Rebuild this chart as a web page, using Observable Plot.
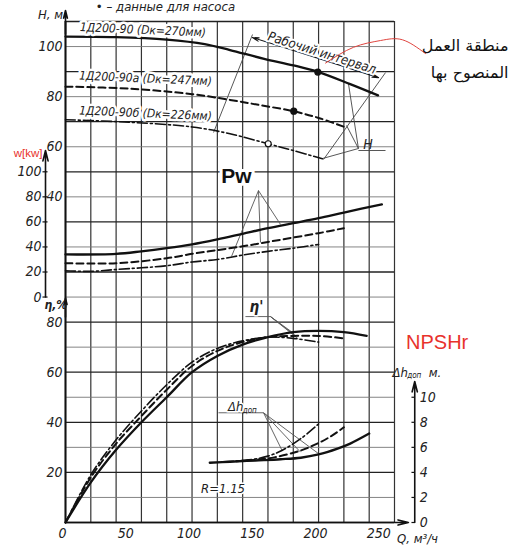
<!DOCTYPE html>
<html><head><meta charset="utf-8">
<script src="https://cdn.jsdelivr.net/npm/d3@7"></script>
<script src="https://cdn.jsdelivr.net/npm/@observablehq/plot@0.6"></script>
<style>body{margin:0;background:#fff}</style>
</head><body><div id="chart"></div>
<script>
// ---------- DATA ----------
// Head H (m) vs flow Q (m3/h)
const qH270 = [0,40,80,110,130,157,180,200,225,247];
const H270  = [104,103.8,102.8,101,98.6,95.1,92.5,89.8,85,80.5];
const qH247 = [0,50,100,130,155,180,200,221];
const H247  = [84,83.2,81,78.7,76.5,74.2,71.5,67.8];
const qH226 = [0,50,100,130,160,180,203];
const H226  = [70.8,69.8,67.9,65.2,61.2,58.5,55.2];
// Nominal points
const nomQ = [199.4,180.4,160.2];
const nomH = [89.8,74.2,61.2];
// Power (kW)
const qP270 = [0,40,60,80,100,120,140,160,180,200,220,250];
const P270  = [34,34.5,36.5,39,42,46,50.5,55,59,63,67.5,74];
const qP247 = [0,40,80,100,120,140,160,180,200,220];
const P247  = [27,27,31,34.5,37.5,40.5,44,47.5,51,55];
const qP226 = [0,20,40,80,100,120,140,160,180,200];
const P226  = [21,20.5,22,25,28,30,33.5,36.5,39,42];
// Efficiency (%)
const qE270 = [0,20,40,60,80,100,120,140,160,180,200,220,238];
const E270  = [0,16,29,40,50,60,66.5,71,74,76,76.5,76,74.5];
const qE247 = [0,20,40,60,80,100,120,140,160,180,200,220];
const E247  = [0,18,31.5,42.5,53,62.5,68.5,72,74,74.5,74.5,73.5];
const qE226 = [0,20,40,60,80,100,120,140,160,180,200];
const E226  = [0,19,33,44.5,55,64,69.5,72.5,74,73.5,72];
// NPSHr (m)
const qN270 = [114,130,150,170,186,200,215,225,240];
const N270  = [4.77,4.85,4.95,5.05,5.17,5.43,5.9,6.3,7.1];
const qN247 = [135,150,165,186,200,210,220];
const N247  = [4.9,5.0,5.2,5.75,6.35,6.9,7.6];
const qN226 = [125,145,160,171,186,201.5];
const N226  = [4.85,5.0,5.3,5.75,6.7,8.0];
// Ticks
const xTicks = [0,50,100,150,200,250];
const hTicks = [100,80,60,40];
const pTicks = [0,20,40,60,80,100];
const eTicks = [80,60,40,20];
const nTicks = [0,2,4,6,8,10];
const gridQ = d3.range(0,261,20);
const gridY = d3.range(0,201,10);
const curveNames = ["1Д200-90 (Dк=270мм)","1Д200-90а (Dк=247мм)","1Д200-90б (Dк=226мм)"];

// ---------- shared chart units (one grid row = 10 units) ----------
const yH = h => 90 + h, yP = p => 90 + p/2, yE = e => e, yN = n => 5*n;
const ser = (qs, vs, f) => qs.map((q,i)=>({q, y:f(vs[i])}));

// annotation geometry (Q, chart units)
const workArrow = [{x1:197.6,y1:185.6,x2:147.8,y2:193.6},{x1:197.6,y1:185.6,x2:247.4,y2:177.6}];
const workLines = [
  {x1:147.8,y1:194.8,x2:117.0,y2:155.7},
  {x1:252.9,y1:179.6,x2:203.9,y2:144.9},
  {x1:223.6,y1:175.2,x2:231.5,y2:149.3},
  {x1:231.5,y1:149.3,x2:222.1,y2:158.5},
  {x1:231.5,y1:149.3,x2:203.1,y2:145.3},
  {x1:231.5,y1:148.5,x2:252.9,y2:148.5}];
const pwLeaders = [
  {x1:152.5,y1:132.5,x2:169.9,y2:119.0},
  {x1:152.5,y1:132.5,x2:154.1,y2:111.8},
  {x1:152.5,y1:132.5,x2:131.2,y2:106.2}];
const etaLeaders = [
  {x1:142.2,y1:82.2,x2:162.0,y2:82.2},
  {x1:162.0,y1:82.2,x2:179,y2:76},
  {x1:162.0,y1:82.2,x2:182,y2:74.5},
  {x1:162.0,y1:82.2,x2:184,y2:73.3}];
const dhLeaders = [
  {x1:120.9,y1:43.8,x2:156.5,y2:43.8},
  {x1:156.5,y1:43.8,x2:171.2,y2:28.7},
  {x1:156.5,y1:43.8,x2:185.7,y2:28.1},
  {x1:156.5,y1:43.8,x2:200.2,y2:27.4}];
const redCurve = [{q:205.5,y:183.4},{q:227.6,y:189.7},{q:248.9,y:192.4},{q:266.3,y:192.7},{q:284.5,y:187.2}];
const axisArrows = [
  {x1:0,y1:0,x2:271,y2:0},
  {x1:0,y1:195,x2:0,y2:204.4},
  {x1:0,y1:82,x2:0,y2:89.5},
  {x1:-15.8,y1:90,x2:-15.8,y2:148.5},
  {x1:276,y1:0,x2:276,y2:56.3}];

const gost = "'Liberation Sans Narrow','DejaVu Sans Condensed','Arial Narrow',sans-serif";
const arial = "'Liberation Sans',Arial,sans-serif";
const ink = "#222";
const st = [
  {stroke:"#111", strokeWidth:2.3},
  {stroke:"#111", strokeWidth:2, strokeDasharray:"7,4"},
  {stroke:"#111", strokeWidth:1.6, strokeDasharray:"10,3,2,3"}];
const curve = "catmull-rom";
const lineOf = (d, i) => Plot.line(d, {x:"q", y:"y", curve, ...st[i]});
const tx = (data, o) => Plot.text(data, {fontFamily:gost, fontStyle:"italic", fill:ink, fontSize:14, ...o});

const chart = Plot.plot({
  width:510, height:552,
  marginLeft:65, marginRight:116, marginTop:21, marginBottom:30,
  x:{domain:[0,260], axis:null},
  y:{domain:[0,200], axis:null},
  style:{background:"white", fontFamily:gost},
  marks:[
    Plot.ruleX(gridQ, {y1:0, y2:200, stroke:"#333", strokeWidth:1.2}),
    Plot.ruleY(gridY, {x1:0, x2:260, stroke:d => d%20===0 ? "#222" : "#777", strokeWidth:d => d%20===0 ? 1.3 : 0.9}),
    Plot.ruleX([0], {y1:0, y2:200, stroke:"#111", strokeWidth:2}),
    Plot.arrow(axisArrows, {x1:"x1",y1:"y1",x2:"x2",y2:"y2", stroke:"#111", strokeWidth:1.6, headLength:10, headAngle:28}),
    Plot.ruleY(pTicks.map(yP), {x1:-17.8, x2:-13.8, stroke:"#111", strokeWidth:1.2}),
    Plot.ruleY(nTicks.map(yN), {x1:273.8, x2:276, stroke:"#111", strokeWidth:1.2}),
    // leader/annotation lines
    Plot.link(workLines, {x1:"x1",y1:"y1",x2:"x2",y2:"y2", stroke:"#444", strokeWidth:0.9}),
    Plot.arrow(workArrow, {x1:"x1",y1:"y1",x2:"x2",y2:"y2", stroke:"#111", strokeWidth:1.1, headLength:9, headAngle:30}),
    Plot.link(pwLeaders, {x1:"x1",y1:"y1",x2:"x2",y2:"y2", stroke:"#555", strokeWidth:0.9}),
    Plot.link(etaLeaders, {x1:"x1",y1:"y1",x2:"x2",y2:"y2", stroke:"#555", strokeWidth:0.9}),
    Plot.link(dhLeaders, {x1:"x1",y1:"y1",x2:"x2",y2:"y2", stroke:"#555", strokeWidth:0.9}),
    // curves
    lineOf(ser(qH270,H270,yH),0), lineOf(ser(qH247,H247,yH),1), lineOf(ser(qH226,H226,yH),2),
    lineOf(ser(qP270,P270,yP),0), lineOf(ser(qP247,P247,yP),1), lineOf(ser(qP226,P226,yP),2),
    lineOf(ser(qE270,E270,yE),0), lineOf(ser(qE247,E247,yE),1), lineOf(ser(qE226,E226,yE),2),
    lineOf(ser(qN270,N270,yN),0), lineOf(ser(qN247,N247,yN),1), lineOf(ser(qN226,N226,yN),2),
    Plot.dot(nomQ.map((q,i)=>({q, y:yH(nomH[i]), i})), {x:"q", y:"y", r:3, fill:d => d.i<2 ? "#111" : "white", stroke:"#111", strokeWidth:1.2}),
    // curve labels
    tx(curveNames.map((t,i)=>({t, q:[61.2,63.2,63.2][i], y:[196.6,177.2,163.3][i]})), {x:"q", y:"y", text:"t", fontSize:12, rotate:2.5, stroke:"white", strokeWidth:5}),
    tx([{t:"Рабочий интервал", q:202.7, y:187.4}], {x:"q", y:"y", text:"t", fontSize:13, rotate:17.5, stroke:"white", strokeWidth:4}),
    tx([{t:"H", q:239, y:150.8}], {x:"q", y:"y", text:"t"}),
    tx([{t:"• – данные для насоса", q:79, y:206}], {x:"q", y:"y", text:"t", fontSize:13}),
    // tick labels
    tx(xTicks, {x:d=>d, y:-4.5, text:d=>String(d), dx:-3}),
    tx(hTicks, {x:0, y:yH, text:d=>String(d), dx:-3, textAnchor:"end"}),
    tx(pTicks, {x:-15.8, y:yP, text:d=>String(d), dx:-4, textAnchor:"end"}),
    tx(eTicks, {x:0, y:yE, text:d=>String(d), dx:-3, textAnchor:"end"}),
    tx(nTicks, {x:276, y:yN, text:d=>String(d), dx:5, textAnchor:"start"}),
    // axis titles
    tx([{t:"H, м", q:-11.9, y:202.8}], {x:"q", y:"y", text:"t", fontSize:13}),
    tx([{t:"η,%", q:-16.6, y:86.6}], {x:"q", y:"y", text:"t", fontSize:12, fontWeight:"bold", textAnchor:"start"}),
    tx([{t:"Q, м³/ч", q:262, y:-6.5}], {x:"q", y:"y", text:"t", fontSize:13, textAnchor:"start"}),
    tx([{t:"Δh", q:258.5, y:59.9}], {x:"q", y:"y", text:"t", fontSize:13, textAnchor:"start"}),
    tx([{t:"доп", q:270, y:58.6}], {x:"q", y:"y", text:"t", fontSize:8, textAnchor:"start"}),
    tx([{t:"м.", q:287, y:59.9}], {x:"q", y:"y", text:"t", fontSize:13, textAnchor:"start"}),
    tx([{t:"η'", q:150.9, y:86}], {x:"q", y:"y", text:"t", fontSize:15, fontWeight:"bold", stroke:"white", strokeWidth:3}),
    tx([{t:"Δh", q:128.5, y:46}], {x:"q", y:"y", text:"t", fontSize:13, textAnchor:"start", stroke:"white", strokeWidth:3}),
    tx([{t:"доп", q:140, y:44.9}], {x:"q", y:"y", text:"t", fontSize:8, textAnchor:"start"}),
    tx([{t:"R=1.15", q:124.5, y:13.6}], {x:"q", y:"y", text:"t", fontSize:13, stroke:"white", strokeWidth:3}),
    // bold / red annotations
    Plot.text([{t:"Pw", q:135.1, y:138.1}], {x:"q", y:"y", text:"t", fontFamily:arial, fontWeight:"bold", fontSize:21, fill:"#111", stroke:"white", strokeWidth:6}),
    Plot.line(redCurve, {x:"q", y:"y", curve:"natural", stroke:"#e0453f", strokeWidth:1}),
    Plot.text([{t:"NPSHr", q:293.7, y:71.7}], {x:"q", y:"y", text:"t", fontFamily:arial, fontSize:20, fill:"#e8322c"}),
    Plot.text([{t:"w[kw]", q:-29.6, y:147.5}], {x:"q", y:"y", text:"t", fontFamily:arial, fontSize:11.5, fill:"#e8322c"}),
    Plot.text([{t:"منطقة العمل", q:350.1, y:190.4},{t:"المنصوح بها", q:350.1, y:179.6}], {x:"q", y:"y", text:"t", fontFamily:"'DejaVu Sans',sans-serif", fontSize:16, fill:"#111", textAnchor:"end"})
  ]
});
document.getElementById("chart").append(chart);
</script>
</body></html>
